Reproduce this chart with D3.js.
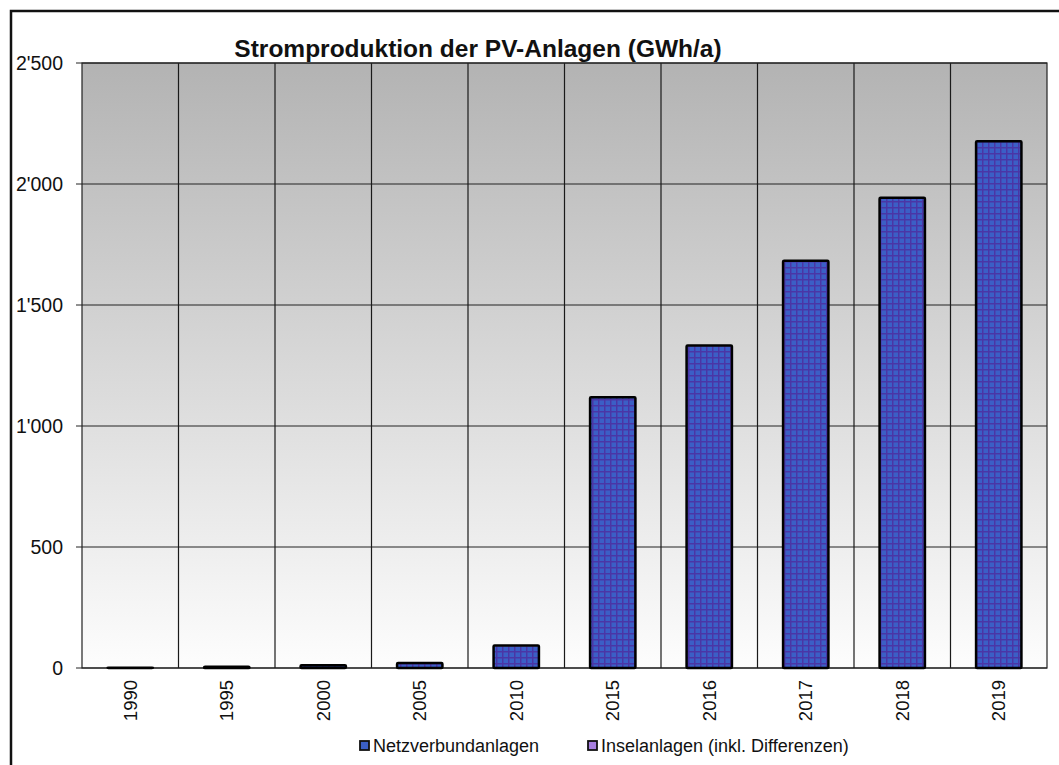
<!DOCTYPE html>
<html>
<head>
<meta charset="utf-8">
<script src="https://cdn.jsdelivr.net/npm/d3@7"></script>
<style>
  body { margin: 0; background: #fff; }
  svg text { font-family: "Liberation Sans", Arial, sans-serif; fill: #111; }
</style>
</head>
<body>
<div id="chart"></div>
<script>
// data (GWh/a)
var years = ["1990", "1995", "2000", "2005", "2010", "2015", "2016", "2017", "2018", "2019"];
var netzValues = [0.8, 4, 9, 19, 90, 1116, 1330, 1680, 1940, 2174];
var inselValues = [0.5, 1, 2, 2, 3, 3, 3, 3, 3, 3];
var yTicks = [0, 500, 1000, 1500, 2000, 2500];
var seriesNames = ["Netzverbundanlagen", "Inselanlagen (inkl. Differenzen)"];

var W = 1059, H = 765;
var margin = {top: 63, right: 12, bottom: 97, left: 82},
    width = 1047 - margin.left,
    height = 668 - margin.top;

var svg = d3.select("#chart").append("svg")
    .attr("width", W)
    .attr("height", H);

var defs = svg.append("defs");

// background gradient of plot area
var grad = defs.append("linearGradient")
    .attr("id", "bg").attr("x1", 0).attr("y1", 0).attr("x2", 0).attr("y2", 1);
grad.append("stop").attr("offset", "0%").attr("stop-color", "#b3b3b3");
grad.append("stop").attr("offset", "100%").attr("stop-color", "#fdfdfd");

// grid pattern for bars
function makePattern(id, base, line) {
  var p = defs.append("pattern")
      .attr("id", id)
      .attr("patternUnits", "userSpaceOnUse")
      .attr("width", 6).attr("height", 6);
  p.append("rect").attr("width", 6).attr("height", 6).attr("fill", base);
  p.append("rect").attr("x", 0).attr("y", 0).attr("width", 6).attr("height", 1.5).attr("fill", line);
  p.append("rect").attr("x", 0).attr("y", 0).attr("width", 1.5).attr("height", 6).attr("fill", line);
}
makePattern("netz", "#3b5fc6", "#4a36a6");
makePattern("insel", "#a77fe0", "#6a45b8");

// outer frame
svg.append("rect")
    .attr("x", 11).attr("y", 11)
    .attr("width", 1052).attr("height", 800)
    .attr("fill", "none")
    .attr("stroke", "#111")
    .attr("stroke-width", 2.5);

var g = svg.append("g")
    .attr("transform", "translate(" + margin.left + "," + margin.top + ")");

var x = d3.scaleBand().domain(years).range([0, width]).paddingInner(0).paddingOuter(0);
var y = d3.scaleLinear().domain([0, 2500]).range([height, 0]);

g.append("rect")
    .attr("width", width).attr("height", height)
    .attr("fill", "url(#bg)");

// horizontal grid
g.selectAll(".hgrid")
    .data(yTicks)
  .enter().append("line")
    .attr("x1", -6).attr("x2", width)
    .attr("y1", function(d) { return y(d); })
    .attr("y2", function(d) { return y(d); })
    .attr("stroke", "#222").attr("stroke-width", 1);

// vertical grid
g.selectAll(".vgrid")
    .data(years.slice(1))
  .enter().append("line")
    .attr("x1", function(d) { return x(d); })
    .attr("x2", function(d) { return x(d); })
    .attr("y1", 0).attr("y2", height)
    .attr("stroke", "#1a1a1a").attr("stroke-width", 1.2);

// plot border
g.append("rect")
    .attr("width", width).attr("height", height)
    .attr("fill", "none").attr("stroke", "#222").attr("stroke-width", 1.2);

// y axis labels
var fmt = function(d) { return d3.format(",")(d).replace(/,/g, "'"); };
var yAxis = d3.axisLeft(y).tickValues(yTicks).tickSize(0).tickPadding(19).tickFormat(fmt);
g.append("g").call(yAxis)
    .call(function(s) { s.select(".domain").remove(); })
    .selectAll("text")
      .style("font-size", "19.5px")
      .attr("fill", "#111");

// x axis labels
var xAxis = d3.axisBottom(x).tickSize(0).tickPadding(0);
g.append("g")
    .attr("transform", "translate(0," + height + ")")
    .call(xAxis)
    .call(function(s) { s.select(".domain").remove(); })
    .selectAll("text")
      .style("font-size", "18.5px")
      .attr("fill", "#111")
      .attr("transform", "rotate(-90)")
      .attr("x", -12)
      .attr("y", 0)
      .attr("dy", "0.35em")
      .style("text-anchor", "end");

// bars
var barW = x.bandwidth() * 0.47;
var bars = years.map(function(yr, i) {
  return {year: yr, netz: netzValues[i], insel: inselValues[i]};
});

var bg = g.selectAll(".bar")
    .data(bars)
  .enter().append("g")
    .attr("class", "bar");

bg.append("rect")
    .attr("x", function(d) { return x(d.year) + (x.bandwidth() - barW) / 2; })
    .attr("width", barW)
    .attr("y", function(d) { return y(d.netz); })
    .attr("height", function(d) { return y(0) - y(d.netz); })
    .attr("fill", "url(#netz)");

bg.append("rect")
    .attr("x", function(d) { return x(d.year) + (x.bandwidth() - barW) / 2; })
    .attr("width", barW)
    .attr("y", function(d) { return y(d.netz + d.insel); })
    .attr("height", function(d) { return y(d.netz) - y(d.netz + d.insel); })
    .attr("fill", "url(#insel)");

bg.append("rect")
    .attr("x", function(d) { return x(d.year) + (x.bandwidth() - barW) / 2; })
    .attr("width", barW)
    .attr("y", function(d) { return y(d.netz + d.insel); })
    .attr("height", function(d) { return y(0) - y(d.netz + d.insel); })
    .attr("fill", "none")
    .attr("stroke", "#000")
    .attr("stroke-width", 2.5)
    .attr("rx", 1);

// title
svg.append("text")
    .attr("x", 478).attr("y", 57)
    .attr("text-anchor", "middle")
    .style("font-size", "24.5px")
    .style("font-weight", "bold")
    .text("Stromproduktion der PV-Anlagen (GWh/a)");

// legend
var legendX = [360, 588];
var lg = svg.selectAll(".legend")
    .data(seriesNames)
  .enter().append("g")
    .attr("transform", function(d, i) { return "translate(" + legendX[i] + ",746)"; });

lg.append("rect")
    .attr("x", 0).attr("y", -5)
    .attr("width", 9).attr("height", 9)
    .attr("fill", function(d, i) { return i === 0 ? "#3b5fc6" : "#a77fe0"; })
    .attr("stroke", "#111").attr("stroke-width", 1.8);

lg.append("text")
    .attr("x", 13).attr("y", 0)
    .attr("dy", "0.35em")
    .style("font-size", "18px")
    .text(function(d) { return d; });
</script>
</body>
</html>
